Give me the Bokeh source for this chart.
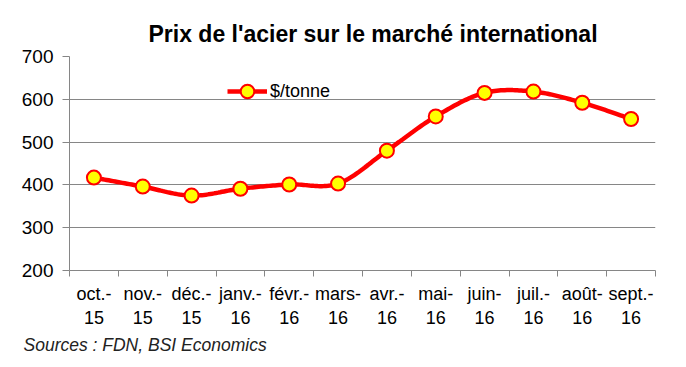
import numpy as np
from bokeh.plotting import figure
from bokeh.models import (Range1d, FixedTicker, Legend, LegendItem, Title)
from bokeh.embed import file_html
from bokeh.resources import INLINE

# ---- data ----
months = ["oct.-", "nov.-", "déc.-", "janv.-", "févr.-", "mars-",
          "avr.-", "mai-", "juin-", "juil.-", "août-", "sept.-"]
years = ["15", "15", "15", "16", "16", "16", "16", "16", "16", "16", "16", "16"]
prices = [417, 396, 375, 391, 401, 403, 480, 560, 615, 618, 592, 554]
y_ticks = [200, 300, 400, 500, 600, 700]

FONT = "Liberation Sans"
GRID = "#868686"

n = len(prices)
xc = np.arange(n) + 0.5
yv = np.array(prices, dtype=float)

# smoothed line (Excel-like Catmull-Rom / Bezier through the data points)
P = np.column_stack([xc, yv])
Pext = np.vstack([P[0], P, P[-1]])
sx, sy = [], []
t = np.linspace(0, 1, 25)
for i in range(n - 1):
    p0 = Pext[i + 1]
    p3 = Pext[i + 2]
    c1 = p0 + (Pext[i + 2] - Pext[i]) / 6.0
    c2 = p3 - (Pext[i + 3] - Pext[i + 1]) / 6.0
    for tt in (t if i == 0 else t[1:]):
        b = ((1 - tt) ** 3) * p0 + 3 * ((1 - tt) ** 2) * tt * c1 + 3 * (1 - tt) * tt ** 2 * c2 + tt ** 3 * p3
        sx.append(b[0]); sy.append(b[1])

p = figure(width=686, height=367, output_backend="svg", toolbar_location=None,
           x_range=Range1d(0, n), y_range=Range1d(200, 700),
           min_border_left=69, min_border_right=31, min_border_top=56, min_border_bottom=97)
p.outline_line_color = None
p.background_fill_color = "white"
p.border_fill_color = "white"

# title
p.title.text = "Prix de l'acier sur le marché international"
p.title.align = "left"
p.title.text_font = FONT
p.title.text_font_size = "23px"
p.title.text_font_style = "bold"
p.title.text_color = "black"
p.title.offset = 79
p.title.standoff = 20

# x axis
p.xaxis.ticker = FixedTicker(ticks=list(xc), minor_ticks=list(range(n + 1)))
p.xaxis.major_label_overrides = {float(x): f"{m}\n{yy}" for x, m, yy in zip(xc, months, years)}
p.xaxis.major_tick_out = 0
p.xaxis.major_tick_in = 0
p.xaxis.minor_tick_out = 6
p.xaxis.minor_tick_in = 0
p.xaxis.minor_tick_line_color = GRID
p.xaxis.axis_line_color = GRID
p.xaxis.major_label_text_font = FONT
p.xaxis.major_label_text_font_size = "18px"
p.xaxis.major_label_text_color = "black"
p.xaxis.major_label_standoff = 7
p.xgrid.visible = False

# y axis
p.yaxis.ticker = FixedTicker(ticks=y_ticks)
p.yaxis.major_tick_out = 7
p.yaxis.major_tick_in = 0
p.yaxis.minor_tick_line_color = None
p.yaxis.major_tick_line_color = GRID
p.yaxis.axis_line_color = GRID
p.yaxis.major_label_text_font = FONT
p.yaxis.major_label_text_font_size = "19px"
p.yaxis.major_label_text_color = "black"
p.yaxis.major_label_standoff = 9
p.ygrid.grid_line_color = GRID
p.ygrid.grid_line_width = 1

# series
line_r = p.line(sx, sy, line_color="#FF0000", line_width=4.5)
sc_r = p.scatter(xc, yv, size=14, fill_color="#FFFF00", line_color="#FF0000", line_width=2)

legend = Legend(items=[LegendItem(label="$/tonne", renderers=[line_r, sc_r])],
                location=(158, 162), glyph_width=40, glyph_height=34,
                label_text_font=FONT, label_text_font_size="18px", label_text_color="black",
                padding=0, margin=0, spacing=0, label_standoff=3, label_height=34,
                border_line_color=None, background_fill_alpha=0)
p.add_layout(legend)

src = Title(text="Sources : FDN, BSI Economics", align="left", text_font=FONT,
            text_font_size="17.5px", text_font_style="italic", text_color="#222222",
            offset=-46, standoff=4)
p.add_layout(src, "below")

open("out.html", "w").write(file_html(p, INLINE))
